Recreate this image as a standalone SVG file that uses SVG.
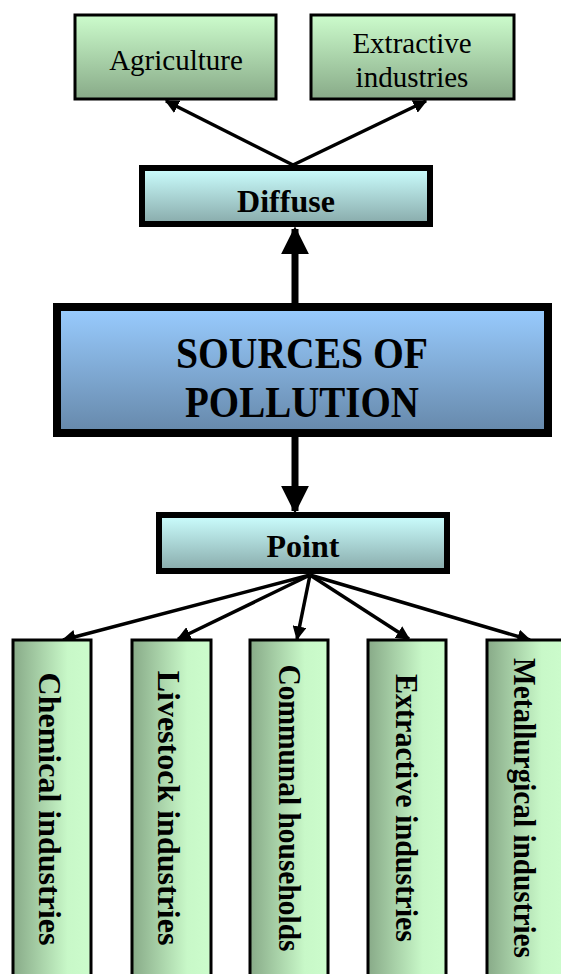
<svg xmlns="http://www.w3.org/2000/svg" width="561" height="974" viewBox="0 0 561 974">
<defs>
<linearGradient id="gGreenV" x1="0" y1="0" x2="0" y2="1"><stop offset="0" stop-color="#ccfccc"/><stop offset="1" stop-color="#88aa88"/></linearGradient>
<linearGradient id="gGreenH" x1="0" y1="0" x2="1" y2="0"><stop offset="0" stop-color="#88aa88"/><stop offset="0.7" stop-color="#c8f8c8"/><stop offset="1" stop-color="#ccfccc"/></linearGradient>
<linearGradient id="gCyan" x1="0" y1="0" x2="0" y2="1"><stop offset="0" stop-color="#ccffff"/><stop offset="1" stop-color="#88aaaa"/></linearGradient>
<linearGradient id="gBlue" x1="0" y1="0" x2="0" y2="1"><stop offset="0" stop-color="#99ccff"/><stop offset="1" stop-color="#6688aa"/></linearGradient>
<marker id="ah" viewBox="0 0 10 10" refX="9" refY="5" markerWidth="4" markerHeight="4" orient="auto" markerUnits="strokeWidth"><path d="M0,0 L10,5 L0,10 z" fill="#000"/></marker>
</defs>
<style>
text{font-family:'Liberation Serif','Times New Roman',serif;fill:#000}
.reg{font-size:29px}
.b{font-weight:bold}
.thin{stroke:#000;stroke-width:3}
.mid{stroke:#000;stroke-width:6}
.thick{stroke:#000;stroke-width:8}
.conn{stroke:#000;stroke-width:3.5;fill:none}
</style>
<g id="connectors">
<line class="conn" x1="293" y1="165" x2="166" y2="101" marker-end="url(#ah)"/>
<line class="conn" x1="293" y1="165" x2="426" y2="101" marker-end="url(#ah)"/>
<line x1="295" y1="303" x2="295" y2="229" stroke="#000" stroke-width="7" marker-end="url(#ah)"/>
<line x1="295" y1="437" x2="295" y2="511" stroke="#000" stroke-width="7" marker-end="url(#ah)"/>
<line class="conn" x1="310" y1="575" x2="63" y2="640" marker-end="url(#ah)"/>
<line class="conn" x1="310" y1="575" x2="178" y2="639" marker-end="url(#ah)"/>
<line class="conn" x1="310" y1="575" x2="297" y2="639" marker-end="url(#ah)"/>
<line class="conn" x1="310" y1="575" x2="409" y2="639" marker-end="url(#ah)"/>
<line class="conn" x1="310" y1="575" x2="530" y2="640" marker-end="url(#ah)"/>
</g>
<g id="agriculture">
<rect class="thin" x="75" y="15" width="201" height="84" fill="url(#gGreenV)"/>
<text class="reg" x="176" y="70" text-anchor="middle">Agriculture</text>
</g>
<g id="extractive-top">
<rect class="thin" x="311" y="15" width="203" height="84" fill="url(#gGreenV)"/>
<text class="reg" x="412" y="53" text-anchor="middle">Extractive</text>
<text class="reg" x="412" y="87" text-anchor="middle">industries</text>
</g>
<g id="diffuse">
<rect class="mid" x="142" y="168" width="288" height="56" fill="url(#gCyan)"/>
<text class="b" x="286" y="212" font-size="32" text-anchor="middle">Diffuse</text>
</g>
<g id="sources">
<rect class="thick" x="57" y="307" width="491" height="126" fill="url(#gBlue)"/>
<text class="b" x="302" y="368" font-size="44" text-anchor="middle" textLength="252" lengthAdjust="spacingAndGlyphs">SOURCES OF</text>
<text class="b" x="302" y="417" font-size="44" text-anchor="middle" textLength="234" lengthAdjust="spacingAndGlyphs">POLLUTION</text>
</g>
<g id="point">
<rect class="mid" x="159" y="515" width="288" height="56" fill="url(#gCyan)"/>
<text class="b" x="303" y="557" font-size="32" text-anchor="middle">Point</text>
</g>
<g id="chemical">
<rect class="thin" x="13" y="640" width="78" height="350" fill="url(#gGreenH)"/>
<text class="b" transform="translate(39,809) rotate(90)" font-size="32" text-anchor="middle">Chemical industries</text>
</g>
<g id="livestock">
<rect class="thin" x="132" y="640" width="79" height="350" fill="url(#gGreenH)"/>
<text class="b" transform="translate(158,808) rotate(90)" font-size="32" text-anchor="middle">Livestock industries</text>
</g>
<g id="communal">
<rect class="thin" x="250" y="640" width="78" height="350" fill="url(#gGreenH)"/>
<text class="b" transform="translate(279,808) rotate(90) scale(0.92,1)" font-size="32" text-anchor="middle">Communal households</text>
</g>
<g id="extractive-bottom">
<rect class="thin" x="368" y="640" width="78" height="350" fill="url(#gGreenH)"/>
<text class="b" transform="translate(396,808) rotate(90) scale(0.94,1)" font-size="32" text-anchor="middle">Extractive industries</text>
</g>
<g id="metallurgical">
<rect class="thin" x="487" y="640" width="78" height="350" fill="url(#gGreenH)"/>
<text class="b" transform="translate(514,808) rotate(90) scale(0.915,1)" font-size="32" text-anchor="middle">Metallurgical industries</text>
</g>
</svg>
